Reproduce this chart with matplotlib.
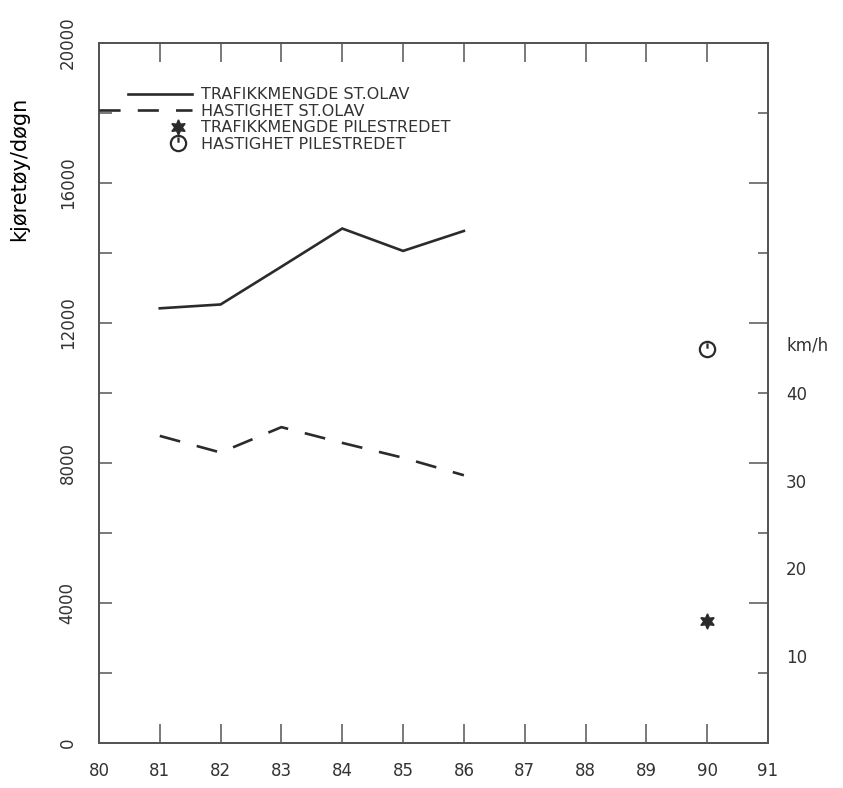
# Trafikkmengde og hastighet, St.Olav / Pilestredet
import numpy as np
import matplotlib
matplotlib.use('Agg')
import matplotlib.pyplot as plt
from matplotlib.path import Path
from matplotlib.legend_handler import HandlerLine2D

# data lest av figuren
aar = [81, 82, 83, 84, 85, 86]
trafikk_olav = [12420, 12530, 13610, 14700, 14060, 14630]   # kjøretøy/døgn
fart_olav = [35.1, 33.2, 36.1, 34.3, 32.6, 30.6]            # km/h
aar_pile = [90]
trafikk_pile = [3500]
fart_pile = [45.0]

x_ticks = list(range(80, 92))
y_ticks = list(range(0, 20001, 4000))
kmh_ticks = [10, 20, 30, 40]

linje = '#2b2b2b'
ramme = '#555555'
tekst = '#333333'

plt.rcParams['font.family'] = ['DejaVu Sans']
plt.rcParams['text.color'] = tekst
plt.rcParams['xtick.color'] = ramme
plt.rcParams['ytick.color'] = ramme
plt.rcParams['xtick.labelcolor'] = tekst
plt.rcParams['ytick.labelcolor'] = tekst


# legende: markør lengre til høyre, stiplet linje lengre til venstre
class MarkorHoyre(HandlerLine2D):
    def get_xdata(self, legend, xdescent, ydescent, width, height, fontsize):
        c = -xdescent + 0.79 * width
        x = np.array([c - 1, c + 1])
        return x, x


class LangLinje(HandlerLine2D):
    def get_xdata(self, legend, xdescent, ydescent, width, height, fontsize):
        x = np.array([-xdescent - 0.45 * width, -xdescent + width])
        return x, x


# sirkel med liten strek (klokke-symbol)
sirkel = Path.make_compound_path(
    Path.unit_circle(),
    Path([[0, 0.1], [0, 0.8]], [Path.MOVETO, Path.LINETO]))
stjerne = (6, 1, 0)

fig = plt.figure(figsize=(8.43, 7.88), dpi=100)
ax = fig.add_axes([0.1174, 0.0571, 0.7936, 0.8883])

ax.set_xlim(80, 91)
ax.set_ylim(0, 20000)
ax.set_xticks(x_ticks)
ax.set_xticklabels([str(v) for v in x_ticks])
ax.tick_params(axis='x', which='major', direction='in', length=14, width=1.1,
               top=True, bottom=True, pad=14, labelsize=12)
ax.set_yticks(y_ticks)
ax.set_yticks(range(0, 20001, 2000), minor=True)
ax.set_yticklabels([str(v) for v in y_ticks])
ax.tick_params(axis='y', which='both', direction='in', length=9, width=1.1,
               left=True, right=False, pad=16, labelsize=12)
plt.setp(ax.get_yticklabels(), rotation=90, va='center')
ax.set_ylabel('kjøretøy/døgn', fontsize=15)
ax.yaxis.set_label_coords(-0.104, 0.82)
for s in ax.spines.values():
    s.set_color(ramme)
    s.set_linewidth(1.2)

# høyre side: tikkmerker i samme enhet som venstre akse
ax2 = ax.twinx()
ax2.set_ylim(0, 20000)
ax2.set_yticks(y_ticks)
ax2.set_yticks(range(0, 20001, 2000), minor=True)
ax2.tick_params(axis='y', which='major', direction='in', length=14, width=1.1,
                labelright=False)
ax2.tick_params(axis='y', which='minor', direction='in', length=7, width=1.1)

# km/h-skala (1 km/h = 250 kjøretøy/døgn)
ax3 = ax.twinx()
ax3.set_ylim(0, 20000 / 250)
ax3.set_yticks(kmh_ticks + [45.7])
ax3.set_yticklabels([str(v) for v in kmh_ticks] + ['km/h'])
ax3.tick_params(axis='y', which='both', length=0, pad=13, labelsize=12)
ax3.yaxis.set_minor_locator(matplotlib.ticker.NullLocator())
for a in (ax2, ax3):
    for s in a.spines.values():
        s.set_color(ramme)
        s.set_linewidth(1.2)

l1, = ax.plot(aar, trafikk_olav, color=linje, lw=1.9, solid_joinstyle='miter')
l2, = ax3.plot(aar, fart_olav, color=linje, lw=1.9, dashes=(8, 6.5))
p1, = ax.plot(aar_pile, trafikk_pile, ls='none', marker=stjerne, ms=11,
              color=linje, mec=linje)
p2, = ax3.plot(aar_pile, fart_pile, ls='none', marker=sirkel, ms=11,
               mfc='none', mec=linje, mew=1.6)

ax3.legend([l1, l2, p1, p2],
           ['TRAFIKKMENGDE ST.OLAV', 'HASTIGHET ST.OLAV',
            'TRAFIKKMENGDE PILESTREDET', 'HASTIGHET PILESTREDET'],
           handler_map={l2: LangLinje(), p1: MarkorHoyre(), p2: MarkorHoyre()},
           loc='upper left', bbox_to_anchor=(0.031, 0.948), frameon=False,
           fontsize=11.5, handlelength=4.0, handletextpad=0.6,
           labelspacing=0.09, borderpad=0, numpoints=1)

fig.savefig('out.png', dpi=100)
